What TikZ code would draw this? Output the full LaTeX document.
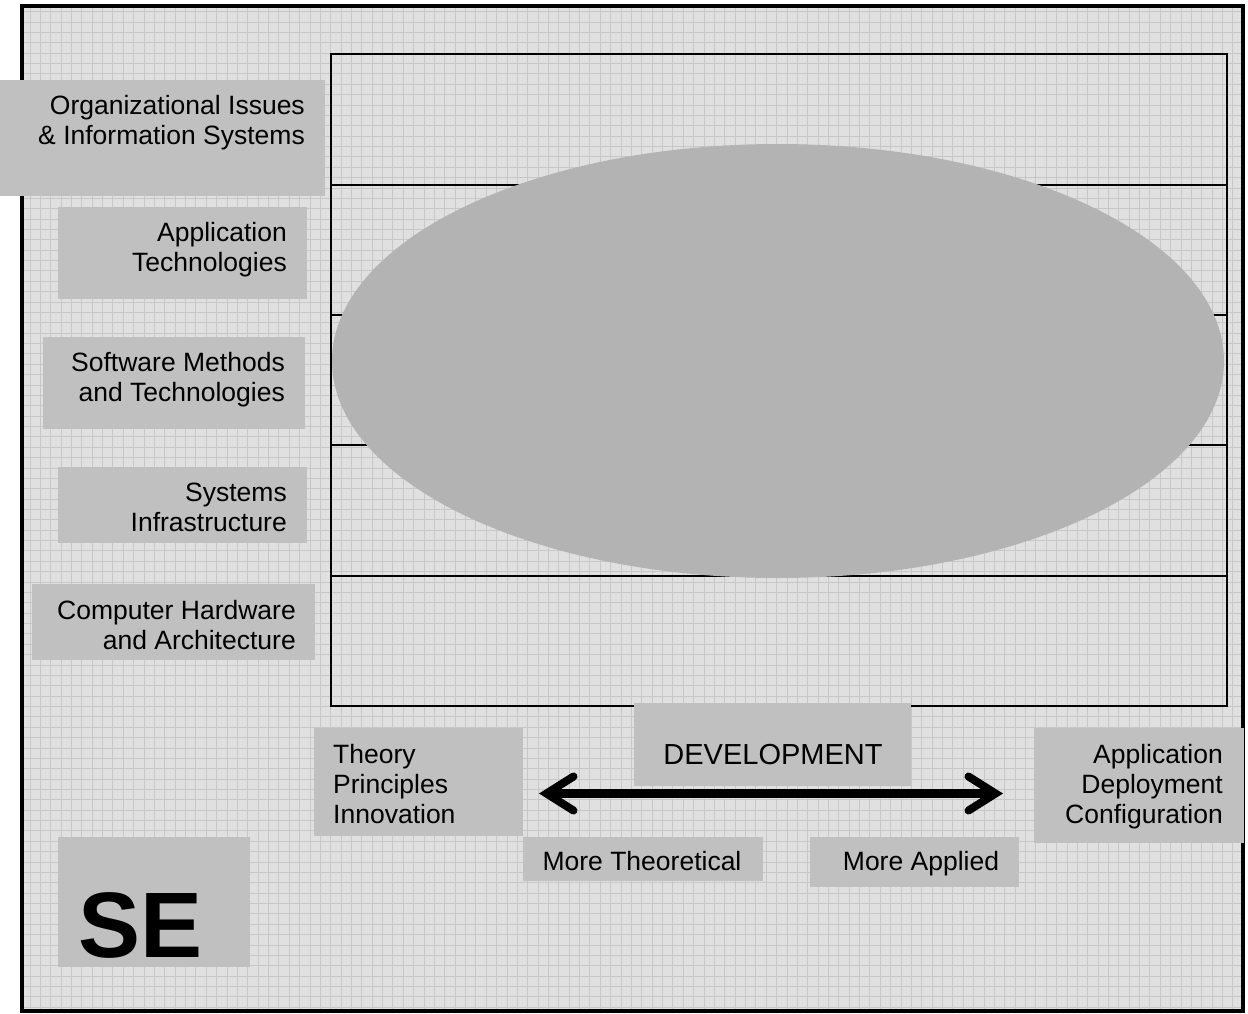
\documentclass[tikz,border=0pt]{standalone}
\usepackage{fontspec}
\setmainfont{Liberation Sans}
\usetikzlibrary{arrows.meta}
\definecolor{bggray}{RGB}{224,224,224}
\definecolor{gridgray}{RGB}{199,199,199}
\definecolor{boxgray}{RGB}{192,192,192}
\definecolor{ellgray}{RGB}{179,179,179}
\tikzset{
  boxfill/.style={fill=boxgray, draw=none, inner sep=0pt, anchor=north west},
  gridline/.style={draw=gridgray, line width=1pt},
  label/.style={inner sep=0pt, font=\fontsize{26.5}{30}\selectfont},
  rowline/.style={line width=2pt, black},
  barbtip/.tip={Straight Barb[length=27pt,width=34pt,line width=8pt,line cap=round,line join=miter]},
}
\begin{document}
\begin{tikzpicture}[x=1pt,y=-1pt]
\useasboundingbox (0,0) rectangle (1248,1013);
\fill[white] (0,0) rectangle (1248,1013);
% background with grid
\fill[bggray] (22,6) rectangle (1243,1011);
\begin{scope}
\clip (22,6) rectangle (1243,1011);
\foreach \i in {-28,...,90} {\draw[gridline] ({310+10.37*\i},6) -- ({310+10.37*\i},1011);}
\foreach \j in {-56,...,43} {\draw[gridline] (22,{571.7+10.37*\j}) -- (1243,{571.7+10.37*\j});}
\end{scope}
\draw[line width=3.5pt, black] (22,6) rectangle (1243,1011);
% inner rectangle with rows
\coordinate (r0w) at (331,54);  \coordinate (r0e) at (1227,54);
\coordinate (r1w) at (331,185); \coordinate (r1e) at (1227,185);
\coordinate (r2w) at (331,315); \coordinate (r2e) at (1227,315);
\coordinate (r3w) at (331,445); \coordinate (r3e) at (1227,445);
\coordinate (r4w) at (331,576); \coordinate (r4e) at (1227,576);
\coordinate (r5w) at (331,706); \coordinate (r5e) at (1227,706);
\draw[rowline] (r0w) rectangle (r5e);
\draw[rowline] (r1w) -- (r1e);
\draw[rowline] (r2w) -- (r2e);
\draw[rowline] (r3w) -- (r3e);
\draw[rowline] (r4w) -- (r4e);
% ellipse
\fill[ellgray] (778,361) ellipse [x radius=446, y radius=217];
% boxes
\node[boxfill, minimum width=325pt, minimum height=116pt] (borg) at (0,80) {};
\node[boxfill, minimum width=249pt, minimum height=92pt] (bapp) at (58,207) {};
\node[boxfill, minimum width=262pt, minimum height=92pt] (bsw) at (43,337) {};
\node[boxfill, minimum width=249pt, minimum height=76pt] (bsys) at (58,467) {};
\node[boxfill, minimum width=283pt, minimum height=76pt] (bhw) at (32,584) {};
\node[boxfill, minimum width=209pt, minimum height=108pt] (bth) at (314,728) {};
\node[boxfill, minimum width=277pt, minimum height=83pt] (bdev) at (634,703) {};
\node[boxfill, minimum width=210pt, minimum height=115pt] (bad) at (1034,728) {};
\node[boxfill, minimum width=240pt, minimum height=44pt] (bmt) at (523,837) {};
\node[boxfill, minimum width=209pt, minimum height=50pt] (bma) at (810,837) {};
\node[boxfill, minimum width=192pt, minimum height=130pt] (bse) at (58,837) {};
% texts
\node[label, align=right, anchor=base east] (torg) at (305,144.5) {Organizational Issues\\\& Information Systems};
\node[label, align=right, anchor=base east] (tapp) at (287,271) {Application\\Technologies};
\node[label, align=right, anchor=base east] (tsw) at (285,401) {Software Methods\\and Technologies};
\node[label, align=right, anchor=base east] (tsys) at (287,531) {Systems\\Infrastructure};
\node[label, align=right, anchor=base east] (thw) at (296,649) {Computer Hardware\\and Architecture};
\node[label, align=left, anchor=base west] (tth) at (333,823) {Theory\\Principles\\Innovation};
\node[label, align=right, anchor=base east] (tad) at (1223,823) {Application\\Deployment\\Configuration};
\node[label, anchor=base, font=\fontsize{29}{33}\selectfont] (tdev) at (773,764) {DEVELOPMENT};
\node[label, anchor=base] (tmt) at (642,870) {More Theoretical};
\node[label, anchor=base] (tma) at (921,870) {More Applied};
\begin{scope}
\clip (58,837) rectangle (250,957);
\node[inner sep=0pt, anchor=base west, font=\fontsize{93}{100}\selectfont\bfseries] (tse) at (78,957) {SE};
\end{scope}
% arrow
\coordinate (al) at (539,793.5);
\coordinate (ar) at (1003,793.5);
\draw[line width=9pt, {barbtip}-{barbtip}] (al) -- (ar);
\end{tikzpicture}
\end{document}
